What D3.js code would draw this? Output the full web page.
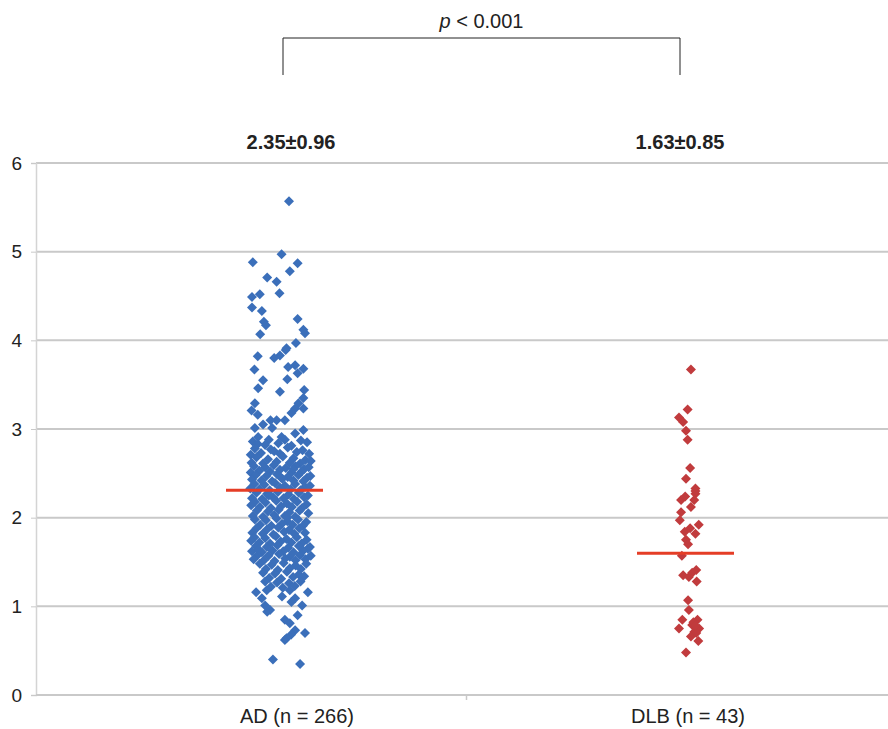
<!DOCTYPE html>
<html>
<head>
<meta charset="utf-8">
<script src="https://cdn.jsdelivr.net/npm/d3@7"></script>
<style>
  body { margin: 0; background: #fff; }
  svg text { font-family: "Liberation Sans", Arial, sans-serif; }
</style>
</head>
<body>
<svg id="chart" width="888" height="729"></svg>
<script>
// categories and summary values
var categories = ["AD (n = 266)", "DLB (n = 43)"];
var categoryX = [1, 2];
var meanLabels = ["2.35\u00b10.96", "1.63\u00b10.85"];
var meanValues = [2.31, 1.60];
var yTicks = [0, 1, 2, 3, 4, 5, 6];

// AD points: [x, value]
var adPoints = [
  [1.034,5.57],[1.016,4.97],[0.946,4.88],[1.055,4.87],[1.036,4.78],[0.981,4.71],[1.004,4.66],[1.011,4.53],[0.944,4.49],[0.963,4.52],
  [0.944,4.37],[0.968,4.33],[1.055,4.24],[0.973,4.21],[0.978,4.17],[1.069,4.12],[1.073,4.08],[0.964,4.07],[1.051,3.97],[1.028,3.91],
  [0.958,3.82],[1.026,3.89],[1.012,3.83],[0.998,3.80],[1.049,3.72],[0.950,3.67],[1.032,3.70],[1.069,3.68],[1.055,3.63],[1.030,3.56],
  [0.971,3.55],[0.959,3.46],[1.071,3.44],[1.012,3.42],[1.069,3.35],[0.951,3.29],[1.057,3.29],[0.943,3.21],[1.049,3.23],[1.069,3.23],
  [0.958,3.16],[1.040,3.18],[0.989,3.10],[1.004,3.10],[1.024,3.10],[0.971,3.05],[0.951,3.01],[0.993,3.01],[1.069,2.99],[1.049,2.95],
  [0.959,2.91],[1.016,2.91],[0.985,2.88],
  [0.946,2.86],[1.063,2.87],[1.008,2.84],[0.976,2.82],[1.040,2.81],[0.958,2.83],[1.078,2.85],[1.024,2.88],
  [0.951,2.78],[0.990,2.77],[1.031,2.79],[1.067,2.76],[0.966,2.73],[1.012,2.72],[1.053,2.74],[0.941,2.71],[1.083,2.72],[0.998,2.75],
  [0.955,2.68],[0.983,2.66],[1.019,2.69],[1.045,2.67],[1.074,2.65],[0.943,2.62],[0.971,2.61],[1.004,2.63],[1.036,2.62],[1.061,2.61],[1.087,2.64],
  [0.949,2.58],[0.976,2.57],[0.997,2.59],[1.026,2.56],[1.050,2.58],[1.071,2.55],[0.962,2.53],[0.988,2.52],[1.012,2.54],[1.040,2.51],[1.065,2.52],[0.941,2.51],[1.082,2.57],
  [0.953,2.48],[0.979,2.47],[1.005,2.49],[1.031,2.46],[1.057,2.48],[1.078,2.45],[0.944,2.43],[0.967,2.42],[0.993,2.41],[1.018,2.44],[1.045,2.42],[1.069,2.41],[1.086,2.47],
  [0.950,2.38],[0.974,2.37],[1.000,2.39],[1.024,2.36],[1.049,2.38],[1.073,2.35],[0.940,2.33],[0.962,2.32],[0.987,2.31],[1.012,2.34],[1.038,2.32],[1.062,2.31],[1.085,2.36],
  [0.955,2.28],[0.981,2.27],[1.007,2.29],[1.033,2.26],[1.058,2.28],[1.080,2.25],[0.944,2.22],[0.969,2.21],[0.995,2.23],[1.021,2.22],[1.046,2.21],[1.071,2.23],
  [0.951,2.18],[0.977,2.17],[1.003,2.19],[1.029,2.16],[1.054,2.18],[1.077,2.15],[0.963,2.12],[0.990,2.11],[1.015,2.13],[1.041,2.12],[1.066,2.11],[0.942,2.14],
  [0.956,2.08],[0.983,2.07],[1.009,2.09],[1.035,2.06],[1.060,2.08],[1.081,2.05],[0.946,2.02],[0.971,2.01],[0.998,2.03],[1.024,2.02],[1.049,2.01],
  [0.951,1.98],[0.978,1.97],[1.004,1.99],[1.030,1.96],[1.056,1.98],[1.076,1.95],[0.964,1.92],[0.991,1.91],[1.017,1.93],[1.043,1.92],[1.068,1.91],
  [0.955,1.88],[0.981,1.87],[1.008,1.89],[1.034,1.86],[1.059,1.88],[0.945,1.83],[0.970,1.82],[0.996,1.81],[1.022,1.84],[1.047,1.82],[1.073,1.83],
  [0.950,1.78],[0.976,1.77],[1.002,1.79],[1.028,1.76],[1.053,1.78],[1.077,1.75],[0.962,1.72],[0.988,1.71],[1.014,1.73],[1.040,1.72],[1.065,1.71],[0.942,1.74],
  [0.954,1.68],[0.980,1.67],[1.006,1.69],[1.032,1.66],[1.058,1.68],[1.080,1.65],[0.944,1.62],[0.968,1.61],[0.994,1.63],[1.020,1.62],[1.045,1.61],[1.069,1.63],[1.085,1.67],
  [0.958,1.58],[0.984,1.57],[1.010,1.59],[1.036,1.56],[1.061,1.58],[0.948,1.53],[0.973,1.52],[0.999,1.51],[1.025,1.54],[1.050,1.52],[1.074,1.53],[1.087,1.57],
  [0.963,1.48],[0.992,1.47],[1.021,1.49],[1.050,1.46],[1.076,1.48],[0.978,1.42],[1.007,1.41],[1.036,1.43],[1.063,1.42],
  [0.971,1.38],[1.000,1.37],[1.029,1.39],[1.058,1.36],[0.986,1.32],[1.015,1.31],[1.044,1.33],[1.071,1.34],
  [0.976,1.28],[1.005,1.27],[1.034,1.26],[1.062,1.28],[0.990,1.22],[1.019,1.21],[1.048,1.23],
  [0.954,1.16],[0.980,1.18],[1.036,1.18],[1.080,1.16],[1.017,1.11],[1.049,1.09],
  [0.968,1.09],[0.976,1.01],[1.066,1.01],[1.040,1.05],
  [0.988,0.96],[0.981,0.94],[1.055,0.90],
  [1.024,0.85],[1.036,0.81],[1.049,0.73],[1.073,0.70],[1.039,0.68],[1.028,0.64],[1.024,0.62],
  [0.995,0.40],[1.061,0.35],
  [1.015,2.45],[0.985,2.25],[1.030,2.00],[0.960,1.64],[1.045,2.55]
];

// DLB points: [x, value]
var dlbPoints = [
  [2.012,3.67],[2.004,3.22],[1.983,3.13],[1.993,3.08],[2.000,2.98],[2.004,2.88],[2.010,2.56],[2.000,2.44],[2.023,2.33],[2.023,2.27],
  [1.988,2.20],[2.020,2.20],[2.012,2.12],[1.988,2.06],[1.985,1.97],[2.031,1.92],[1.997,1.84],[2.023,1.82],[2.000,1.75],[1.990,1.57],
  [2.025,1.41],[1.993,1.35],[2.007,1.33],[2.026,1.28],[2.005,1.07],[2.007,0.96],[1.991,0.85],[2.028,0.85],[2.015,0.79],[1.983,0.75],
  [2.032,0.75],[2.020,0.71],[2.012,0.66],[2.030,0.61],[2.000,0.48],
  [2.023,2.30],[2.010,1.88],[2.005,1.70],[2.018,0.82],[2.025,0.70],[2.022,0.78],[2.015,1.38],[1.998,2.24]
];

var svg = d3.select("#chart");
var plotLeft = 36, plotRight = 888, plotTop = 163, plotBottom = 695;

var x = d3.scaleLinear().domain([1, 2]).range([275, 686]);
var y = d3.scaleLinear().domain([0, 6]).range([plotBottom, plotTop]);

// gridlines
svg.append("g")
    .selectAll("line")
    .data(yTicks.filter(function (d) { return d > 0; }))
    .enter().append("line")
    .attr("x1", plotLeft).attr("x2", plotRight)
    .attr("y1", function (d) { return y(d); })
    .attr("y2", function (d) { return y(d); })
    .attr("stroke", "#c9c9c9")
    .attr("stroke-width", 2);

// y axis
var yAxis = svg.append("g")
    .attr("transform", "translate(" + plotLeft + ",0)")
    .call(d3.axisLeft(y).tickValues(yTicks).tickFormat(d3.format("d")).tickSize(5).tickPadding(9));
yAxis.select(".domain").attr("stroke", "#d4d4d4").attr("stroke-width", 1.5);
yAxis.selectAll(".tick line").attr("stroke", "#c9c9c9");
yAxis.selectAll(".tick text")
    .attr("font-size", 19)
    .attr("fill", "#222")
    .style("font-family", "Liberation Sans, Arial, sans-serif");

// x axis line and category divider tick
svg.append("line")
    .attr("x1", plotLeft).attr("x2", plotRight)
    .attr("y1", plotBottom).attr("y2", plotBottom)
    .attr("stroke", "#c9c9c9").attr("stroke-width", 2);
var midX = (x(1) + x(2)) / 2 - 14;
svg.append("line")
    .attr("x1", midX).attr("x2", midX)
    .attr("y1", plotBottom).attr("y2", plotBottom + 5)
    .attr("stroke", "#c9c9c9").attr("stroke-width", 1.5);

// category labels
svg.append("g")
    .selectAll("text")
    .data(categories)
    .enter().append("text")
    .attr("x", function (d, i) { return x(categoryX[i]) + (i === 0 ? 22 : 2); })
    .attr("y", 723)
    .attr("text-anchor", "middle")
    .attr("font-size", 20)
    .attr("fill", "#222")
    .text(function (d) { return d; });

// diamond marker
var diamond = d3.symbol().type(d3.symbolSquare).size(50);

svg.append("g")
    .selectAll("path")
    .data(adPoints)
    .enter().append("path")
    .attr("d", diamond)
    .attr("transform", function (d) { return "translate(" + x(d[0]) + "," + y(d[1]) + ") rotate(45)"; })
    .attr("fill", "#3b6fba");

svg.append("g")
    .selectAll("path")
    .data(dlbPoints)
    .enter().append("path")
    .attr("d", diamond)
    .attr("transform", function (d) { return "translate(" + x(d[0]) + "," + y(d[1]) + ") rotate(45)"; })
    .attr("fill", "#c13b3d");

// mean lines
svg.append("g")
    .selectAll("line")
    .data(meanValues)
    .enter().append("line")
    .attr("x1", function (d, i) { return x(categoryX[i]) - 49; })
    .attr("x2", function (d, i) { return x(categoryX[i]) + 48; })
    .attr("y1", function (d) { return y(d); })
    .attr("y2", function (d) { return y(d); })
    .attr("stroke", "#e53d26")
    .attr("stroke-width", 3);

// mean +/- sd labels
svg.append("g")
    .selectAll("text")
    .data(meanLabels)
    .enter().append("text")
    .attr("x", function (d, i) { return x(categoryX[i]) + (i === 0 ? 16 : -6); })
    .attr("y", 149)
    .attr("text-anchor", "middle")
    .attr("font-size", 20)
    .attr("font-weight", "bold")
    .attr("fill", "#222")
    .text(function (d) { return d; });

// significance bracket
var bx1 = x(categoryX[0]) + 8, bx2 = x(categoryX[1]) - 6;
svg.append("path")
    .attr("d", "M" + bx1 + ",75 V38 H" + bx2 + " V75")
    .attr("fill", "none")
    .attr("stroke", "#222")
    .attr("stroke-width", 1);

var pText = svg.append("text")
    .attr("x", (bx1 + bx2) / 2)
    .attr("y", 28)
    .attr("text-anchor", "middle")
    .attr("font-size", 20)
    .attr("fill", "#222");
pText.append("tspan").attr("font-style", "italic").text("p");
pText.append("tspan").text(" < 0.001");
</script>
</body>
</html>
